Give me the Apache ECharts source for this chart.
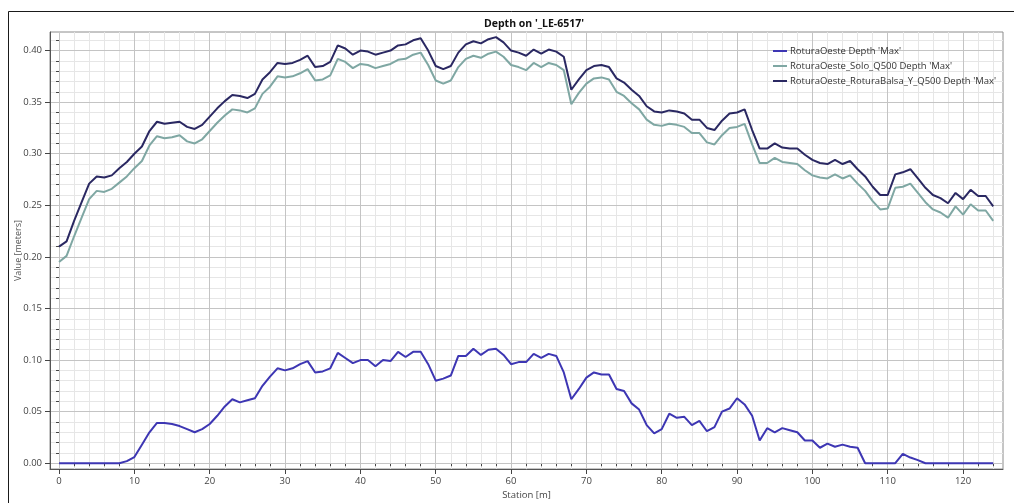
<!DOCTYPE html>
<html>
<head>
<meta charset="utf-8">
<script src="https://cdn.jsdelivr.net/npm/echarts@6/dist/echarts.min.js"></script>
<style>
html,body{margin:0;padding:0;background:#fff;}
#chart{width:1014px;height:503px;}
</style>
</head>
<body>
<div id="chart"></div>
<script>
// ---- data ----
const stations = [0,1,2,3,4,5,6,7,8,9,10,11,12,13,14,15,16,17,18,19,20,21,22,23,24,25,26,27,28,29,30,31,32,33,34,35,36,37,38,39,40,41,42,43,44,45,46,47,48,49,50,51,52,53,54,55,56,57,58,59,60,61,62,63,64,65,66,67,68,69,70,71,72,73,74,75,76,77,78,79,80,81,82,83,84,85,86,87,88,89,90,91,92,93,94,95,96,97,98,99,100,101,102,103,104,105,106,107,108,109,110,111,112,113,114,115,116,117,118,119,120,121,122,123,124];

const seriesNames = ["RoturaOeste Depth 'Max'", "RoturaOeste_Solo_Q500 Depth 'Max'", "RoturaOeste_RoturaBalsa_Y_Q500 Depth 'Max'"];

const roturaOeste = [0,0,0,0,0,0,0,0,0,0.002,0.006,0.018,0.030,0.039,0.039,0.038,0.036,0.033,0.030,0.033,
0.038,0.046,0.055,0.062,0.059,0.061,0.063,0.075,0.084,0.092,0.090,0.092,0.096,0.099,0.088,0.089,0.092,0.107,0.102,0.097,
0.100,0.100,0.094,0.100,0.099,0.108,0.103,0.108,0.108,0.096,0.080,0.082,0.085,0.104,0.104,0.111,0.105,0.110,0.111,0.105,
0.096,0.098,0.098,0.106,0.102,0.106,0.104,0.088,0.062,0.072,0.083,0.088,0.086,0.086,0.072,0.070,0.058,0.052,0.037,0.029,
0.033,0.048,0.044,0.045,0.037,0.041,0.031,0.035,0.050,0.053,0.063,0.057,0.046,0.022,0.034,0.030,0.034,0.032,0.030,0.022,
0.022,0.015,0.019,0.016,0.018,0.016,0.015,0,0,0,0,0,0.009,0.0055,0.003,0,0,0,0,0,
0,0,0,0,0];

const soloQ500 = [0.195,0.201,0.220,0.238,0.256,0.264,0.263,0.266,0.272,0.278,0.286,0.293,0.308,0.317,0.315,0.316,0.318,0.312,0.310,0.314,
0.322,0.330,0.337,0.343,0.342,0.340,0.344,0.358,0.365,0.375,0.374,0.375,0.378,0.382,0.371,0.372,0.376,0.392,0.389,0.383,
0.387,0.386,0.383,0.385,0.387,0.391,0.392,0.396,0.398,0.386,0.371,0.368,0.371,0.384,0.392,0.395,0.393,0.397,0.399,0.394,
0.386,0.384,0.381,0.388,0.384,0.388,0.386,0.381,0.348,0.359,0.368,0.373,0.374,0.372,0.360,0.356,0.349,0.343,0.333,0.328,
0.327,0.329,0.328,0.326,0.320,0.320,0.311,0.309,0.318,0.325,0.326,0.329,0.309,0.291,0.291,0.296,0.292,0.291,0.290,0.284,
0.279,0.277,0.276,0.280,0.276,0.279,0.271,0.264,0.254,0.246,0.247,0.267,0.268,0.271,0.262,0.253,0.246,0.243,0.238,0.249,
0.241,0.251,0.245,0.245,0.235];

const balsaQ500 = [0.210,0.215,0.235,0.253,0.271,0.278,0.277,0.279,0.286,0.292,0.300,0.307,0.322,0.331,0.329,0.330,0.331,0.326,0.324,0.328,
0.336,0.344,0.351,0.357,0.356,0.354,0.358,0.372,0.379,0.388,0.387,0.388,0.391,0.395,0.384,0.385,0.389,0.405,0.402,0.396,
0.400,0.399,0.396,0.398,0.400,0.405,0.406,0.410,0.412,0.400,0.385,0.382,0.385,0.398,0.406,0.409,0.407,0.411,0.413,0.408,
0.400,0.398,0.395,0.401,0.397,0.401,0.399,0.394,0.362,0.372,0.381,0.385,0.386,0.384,0.373,0.369,0.362,0.356,0.346,0.341,
0.340,0.342,0.341,0.339,0.333,0.333,0.325,0.323,0.332,0.339,0.340,0.343,0.323,0.305,0.305,0.310,0.306,0.305,0.305,0.299,
0.294,0.291,0.290,0.294,0.290,0.293,0.285,0.278,0.268,0.260,0.260,0.280,0.282,0.285,0.276,0.267,0.260,0.257,0.252,0.262,
0.256,0.265,0.259,0.259,0.249];

const xLabelValues = [0,10,20,30,40,50,60,70,80,90,100,110,120];
const xMinorValues = [0,2,4,6,8,10,12,14,16,18,20,22,24,26,28,30,32,34,36,38,40,42,44,46,48,50,52,54,56,58,60,62,64,66,68,70,72,74,76,78,80,82,84,86,88,90,92,94,96,98,100,102,104,106,108,110,112,114,116,118,120,122,124];
const yLabelValues = [0,0.05,0.10,0.15,0.20,0.25,0.30,0.35,0.40];
const yMinorValues = [0,0.01,0.02,0.03,0.04,0.05,0.06,0.07,0.08,0.09,0.10,0.11,0.12,0.13,0.14,0.15,0.16,0.17,0.18,0.19,0.20,0.21,0.22,0.23,0.24,0.25,0.26,0.27,0.28,0.29,0.30,0.31,0.32,0.33,0.34,0.35,0.36,0.37,0.38,0.39,0.40,0.41];

const colors = ['#3d36b3', '#7fa7a3', '#2a2862'];

// ---- chart ----
const FONT = '"Open Sans", "Noto Sans", sans-serif';
const xMin = -1.2, xMax = 125.3, yMin = -0.0056, yMax = 0.418;

function pairs(vals){ return stations.map((s,i)=>[s, vals[i]]); }

const chart = echarts.init(document.getElementById('chart'), null, {renderer:'canvas'});
chart.setOption({
  animation: false,
  backgroundColor: '#ffffff',
  graphic: [{
    type: 'rect', silent: true, z: -10,
    shape: {x: 8.5, y: 11.5, width: 1100, height: 600},
    style: {fill: 'none', stroke: '#1a1a1a', lineWidth: 1}
  }],
  title: {
    text: "Depth on '_LE-6517'",
    left: 479, top: 14,
    textStyle: {fontFamily: FONT, fontSize: 10.5, fontWeight: 'bold', color: '#111'}
  },
  legend: {
    orient: 'vertical',
    left: 768, top: 41,
    itemWidth: 14, itemHeight: 2, itemGap: 5,
    icon: 'rect',
    textStyle: {fontFamily: FONT, fontSize: 9.5, color: '#333', padding: [0,0,0,-2]},
    data: seriesNames
  },
  grid: {
    left: 50, right: 11, top: 32, bottom: 34,
    outerBoundsMode: 'none', containLabel: false,
    show: true, borderColor: '#8c8c8c', borderWidth: 1, backgroundColor: 'transparent'
  },
  xAxis: [{
    type: 'value', min: xMin, max: xMax, position: 'bottom', z: 3,
    name: 'Station [m]', nameLocation: 'middle', nameGap: 21, nameMoveOverlap: false,
    nameTextStyle: {fontFamily: FONT, fontSize: 9.5, color: '#444'},
    axisLine: {show: true, onZero: false, lineStyle: {color: '#555'}},
    axisTick: {show: true, length: 5, customValues: xLabelValues, lineStyle: {color: '#444'}},
    axisLabel: {customValues: xLabelValues, fontFamily: FONT, fontSize: 9.5, color: '#444', margin: 7},
    splitLine: {show: true, lineStyle: {color: '#c4c4c4', width: 1}}
  },{
    type: 'value', min: xMin, max: xMax, position: 'bottom', z: 1,
    axisLine: {show: false},
    axisTick: {show: true, length: 3, customValues: xMinorValues, lineStyle: {color: '#444'}},
    axisLabel: {show: false},
    splitLine: {show: true, lineStyle: {color: '#e6e6e6', width: 1}}
  }],
  yAxis: [{
    type: 'value', min: yMin, max: yMax, position: 'left', z: 3,
    name: 'Value [meters]', nameLocation: 'middle', nameGap: 27, nameMoveOverlap: false,
    nameTextStyle: {fontFamily: FONT, fontSize: 9, color: '#555'},
    axisLine: {show: true, onZero: false, lineStyle: {color: '#555'}},
    axisTick: {show: true, length: 5, customValues: yLabelValues, lineStyle: {color: '#444'}},
    axisLabel: {customValues: yLabelValues, fontFamily: FONT, fontSize: 9.5, color: '#444', margin: 8,
      formatter: v => v.toFixed(2)},
    splitLine: {show: true, lineStyle: {color: '#c4c4c4', width: 1}}
  },{
    type: 'value', min: yMin, max: yMax, position: 'left', offset: 0, z: 1,
    axisLine: {show: false},
    axisTick: {show: true, length: 3, customValues: yMinorValues, lineStyle: {color: '#444'}},
    axisLabel: {show: false},
    splitLine: {show: true, lineStyle: {color: '#e6e6e6', width: 1}}
  }],
  series: [
    {name: seriesNames[0], type: 'line', data: pairs(roturaOeste), showSymbol: false, color: colors[0], lineStyle: {width: 2}, z: 5},
    {name: seriesNames[1], type: 'line', data: pairs(soloQ500), showSymbol: false, color: colors[1], lineStyle: {width: 2}, z: 5},
    {name: seriesNames[2], type: 'line', data: pairs(balsaQ500), showSymbol: false, color: colors[2], lineStyle: {width: 2}, z: 6}
  ]
});
</script>
</body>
</html>
